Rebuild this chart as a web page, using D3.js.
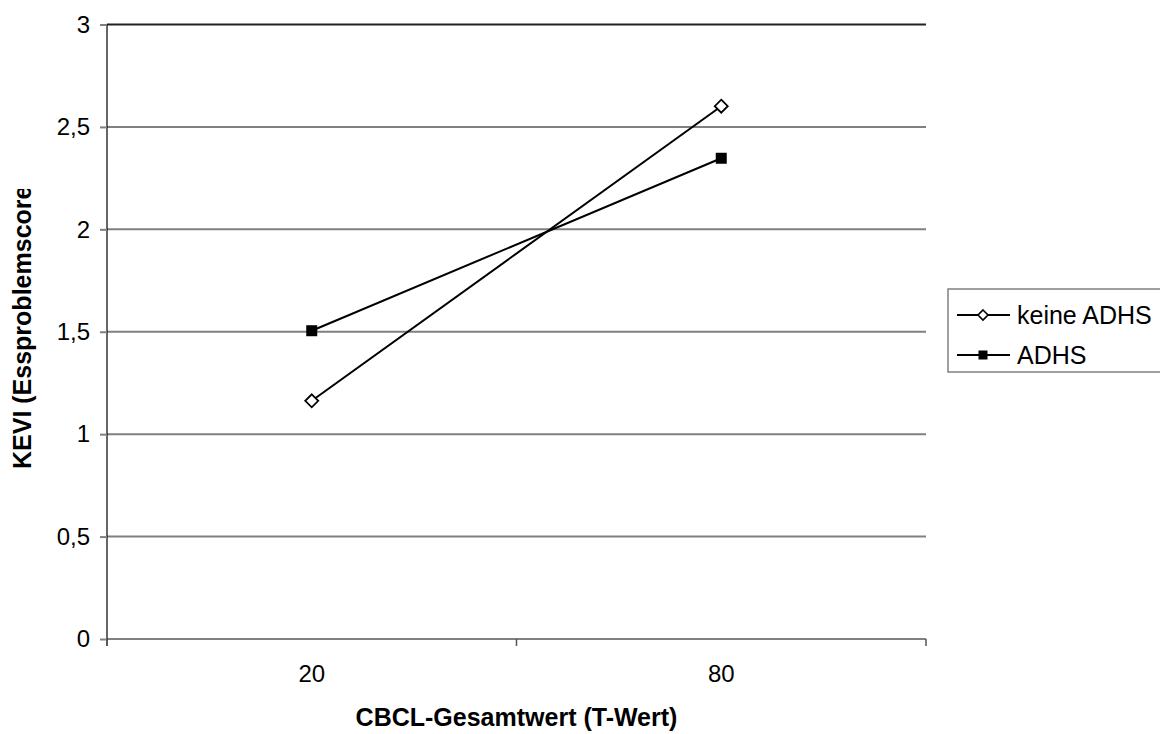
<!DOCTYPE html>
<html>
<head>
<meta charset="utf-8">
<script src="https://cdn.jsdelivr.net/npm/d3@7"></script>
<style>
  body { margin: 0; background: #fff; }
  text { font-family: Arial, "Liberation Sans", sans-serif; }
</style>
</head>
<body>
<div id="chart"></div>
<script>
// data
var categories = ["20", "80"];
var keineADHS = [1.163, 2.601];
var adhs = [1.505, 2.347];
var yTicks = [0, 0.5, 1, 1.5, 2, 2.5, 3];
var seriesNames = ["keine ADHS", "ADHS"];

var svgWidth = 1160;
var svgHeight = 734;

var margin = { top: 24.5, left: 107, right: 234, bottom: 95 };
var width = svgWidth - margin.left - margin.right;
var height = svgHeight - margin.top - margin.bottom;

var svg = d3.select("#chart")
  .append("svg")
  .attr("width", svgWidth)
  .attr("height", svgHeight);

var chartGroup = svg.append("g")
  .attr("transform", `translate(${margin.left}, ${margin.top})`);

var xScale = d3.scaleBand()
  .domain(categories)
  .range([0, width]);

var yScale = d3.scaleLinear()
  .domain([0, 3])
  .range([height, 0]);

var fmt = d => String(d).replace(".", ",");

// gridlines
chartGroup.append("g")
  .selectAll("line")
  .data(yTicks)
  .enter()
  .append("line")
  .attr("x1", 0)
  .attr("x2", width)
  .attr("y1", d => yScale(d))
  .attr("y2", d => yScale(d))
  .attr("stroke", d => d === 3 ? "#222" : "#808080")
  .attr("stroke-width", 2);

// y axis
var leftAxis = d3.axisLeft(yScale)
  .tickValues(yTicks)
  .tickFormat(fmt)
  .tickSize(7)
  .tickPadding(10);

var yAxisG = chartGroup.append("g").call(leftAxis);
yAxisG.select(".domain").attr("stroke", "#000").attr("stroke-width", 1.2)
  .attr("d", `M0,0V${height + 7}`);
yAxisG.selectAll(".tick line").attr("stroke", "#808080").attr("stroke-width", 2);
yAxisG.selectAll(".tick text")
  .attr("font-size", "24px")
  .attr("fill", "#000")
  .attr("font-family", "Arial, 'Liberation Sans', sans-serif");

// x axis
var bottomAxis = d3.axisBottom(xScale)
  .tickSize(0)
  .tickPadding(26);

var xAxisG = chartGroup.append("g")
  .attr("transform", `translate(0, ${height})`)
  .call(bottomAxis);
xAxisG.select(".domain").remove();
xAxisG.selectAll(".tick text")
  .attr("font-size", "24px")
  .attr("fill", "#000")
  .attr("font-family", "Arial, 'Liberation Sans', sans-serif");

// category boundary ticks
var bounds = [0, xScale.bandwidth(), width];
chartGroup.append("g")
  .selectAll("line")
  .data(bounds)
  .enter()
  .append("line")
  .attr("x1", d => d)
  .attr("x2", d => d)
  .attr("y1", height)
  .attr("y2", height + 7)
  .attr("stroke", "#555")
  .attr("stroke-width", 1.5);

var cx = d => xScale(d) + xScale.bandwidth() / 2;

var line = d3.line()
  .x((d, i) => cx(categories[i]))
  .y(d => yScale(d));

// series lines
[keineADHS, adhs].forEach(function (vals) {
  chartGroup.append("path")
    .datum(vals)
    .attr("d", line)
    .attr("fill", "none")
    .attr("stroke", "#000")
    .attr("stroke-width", 2);
});

// markers: keine ADHS = open diamond
chartGroup.append("g")
  .selectAll("path")
  .data(keineADHS)
  .enter()
  .append("path")
  .attr("d", "M0,-6.5L6.5,0L0,6.5L-6.5,0Z")
  .attr("transform", (d, i) => `translate(${cx(categories[i])}, ${yScale(d)})`)
  .attr("fill", "#fff")
  .attr("stroke", "#000")
  .attr("stroke-width", 1.8);

// ADHS = filled square
chartGroup.append("g")
  .selectAll("rect")
  .data(adhs)
  .enter()
  .append("rect")
  .attr("x", (d, i) => cx(categories[i]) - 5.5)
  .attr("y", d => yScale(d) - 5.5)
  .attr("width", 11)
  .attr("height", 11)
  .attr("fill", "#000");

// y axis title (clipped at the top like the original)
svg.append("clipPath")
  .attr("id", "yclip")
  .append("rect")
  .attr("x", 0)
  .attr("y", 189)
  .attr("width", 60)
  .attr("height", 400);

svg.append("g")
  .attr("clip-path", "url(#yclip)")
  .append("text")
  .attr("transform", "translate(31, 469) rotate(-90)")
  .attr("font-size", "25px")
  .attr("font-weight", "bold")
  .attr("fill", "#000")
  .text("KEVI (Essproblemscore)");

// x axis title
svg.append("text")
  .attr("x", margin.left + width / 2)
  .attr("y", 726)
  .attr("text-anchor", "middle")
  .attr("font-size", "25px")
  .attr("font-weight", "bold")
  .attr("fill", "#000")
  .text("CBCL-Gesamtwert (T-Wert)");

// legend
var legend = svg.append("g").attr("transform", "translate(948, 289)");
legend.append("rect")
  .attr("x", 0)
  .attr("y", 0)
  .attr("width", 220)
  .attr("height", 83)
  .attr("fill", "#fff")
  .attr("stroke", "#808080")
  .attr("stroke-width", 1.5);

var rows = legend.selectAll(".row")
  .data(seriesNames)
  .enter()
  .append("g")
  .attr("transform", (d, i) => `translate(0, ${26 + i * 40})`);

rows.append("line")
  .attr("x1", 9)
  .attr("x2", 62)
  .attr("y1", 0)
  .attr("y2", 0)
  .attr("stroke", "#000")
  .attr("stroke-width", 2);

rows.filter((d, i) => i === 0)
  .append("path")
  .attr("d", "M35,-5L40,0L35,5L30,0Z")
  .attr("fill", "#fff")
  .attr("stroke", "#000")
  .attr("stroke-width", 1.6);

rows.filter((d, i) => i === 1)
  .append("rect")
  .attr("x", 30.5)
  .attr("y", -4.5)
  .attr("width", 9)
  .attr("height", 9)
  .attr("fill", "#000");

rows.append("text")
  .attr("x", 69)
  .attr("y", 0)
  .attr("dy", "0.35em")
  .attr("font-size", "25px")
  .attr("fill", "#000")
  .text(d => d);
</script>
</body>
</html>
